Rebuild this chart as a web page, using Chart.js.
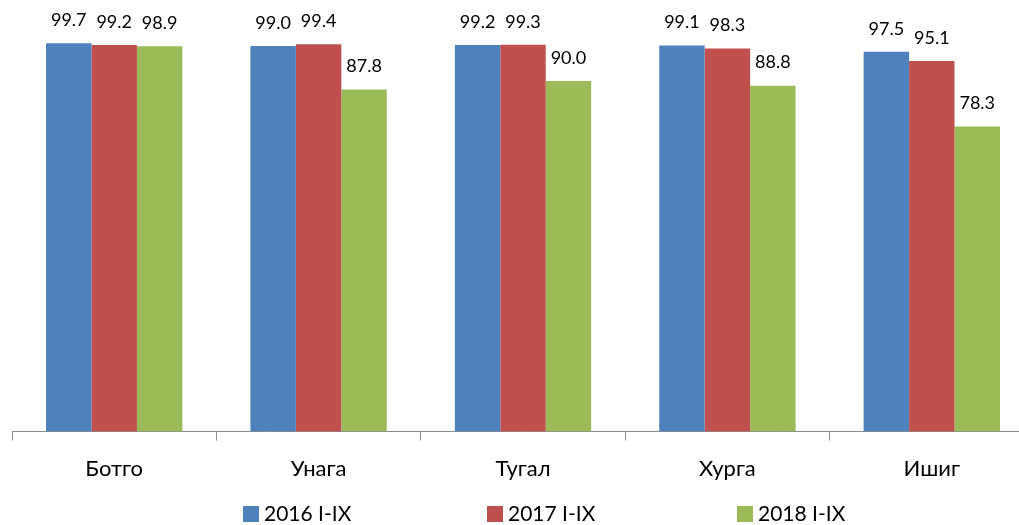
<!DOCTYPE html>
<html>
<head>
<meta charset="utf-8">
<script src="https://cdn.jsdelivr.net/npm/chart.js@4"></script>
<style>
  html, body { margin: 0; padding: 0; background: #fff; overflow: hidden; }
  #wrap { width: 1019px; height: 525px; overflow: hidden; }
</style>
</head>
<body>
<div id="wrap">
  <canvas id="chart" width="1036" height="525"></canvas>
</div>
<script>
const categories = ["Ботго", "Унага", "Тугал", "Хурга", "Ишиг"];
const seriesNames = ["2016 I-IX", "2017 I-IX", "2018 I-IX"];
const values2016 = [99.7, 99.0, 99.2, 99.1, 97.5];
const values2017 = [99.2, 99.4, 99.3, 98.3, 95.1];
const values2018 = [98.9, 87.8, 90.0, 88.8, 78.3];
const colors = ["#4F81BD", "#C0504D", "#9BBB59"];

const fontFamily = 'Lato, "Noto Sans", sans-serif';

// value labels above each bar
const valueLabels = {
  id: "valueLabels",
  afterDatasetsDraw(chart) {
    const ctx = chart.ctx;
    ctx.save();
    ctx.font = "18px " + fontFamily;
    ctx.fillStyle = "#000";
    ctx.textAlign = "center";
    ctx.textBaseline = "middle";
    chart.data.datasets.forEach((ds, i) => {
      chart.getDatasetMeta(i).data.forEach((bar, j) => {
        ctx.fillText(ds.data[j].toFixed(1), bar.x, bar.y - 23);
      });
    });
    ctx.restore();
  }
};

// legend spread out like the original
const wideLegend = {
  id: "wideLegend",
  afterDraw(chart) {
    const ctx = chart.ctx;
    const xs = [243, 487, 737];
    const y = 514;
    ctx.save();
    ctx.font = "21px " + fontFamily;
    ctx.textBaseline = "middle";
    ctx.textAlign = "left";
    chart.data.datasets.forEach((ds, i) => {
      ctx.fillStyle = ds.backgroundColor;
      ctx.fillRect(xs[i], y - 8, 16, 16);
      ctx.fillStyle = "#000";
      ctx.fillText(ds.label, xs[i] + 21, y);
    });
    ctx.restore();
  }
};

new Chart(document.getElementById("chart"), {
  type: "bar",
  data: {
    labels: categories,
    datasets: [
      { label: seriesNames[0], data: values2016, backgroundColor: colors[0] },
      { label: seriesNames[1], data: values2017, backgroundColor: colors[1] },
      { label: seriesNames[2], data: values2018, backgroundColor: colors[2] }
    ]
  },
  options: {
    responsive: false,
    animation: false,
    layout: { padding: { left: 12, right: 2, top: 42, bottom: 28 } },
    datasets: { bar: { categoryPercentage: 0.667, barPercentage: 1.0 } },
    plugins: {
      legend: { display: false },
      tooltip: { enabled: false }
    },
    scales: {
      x: {
        grid: {
          offset: true,
          drawOnChartArea: false,
          drawTicks: true,
          tickLength: 9,
          color: "#8c8c8c"
        },
        border: { display: true, color: "#8c8c8c" },
        ticks: {
          color: "#000",
          padding: 15,
          font: { family: fontFamily, size: 22 }
        }
      },
      y: {
        display: false,
        min: 0,
        max: 100
      }
    }
  },
  plugins: [valueLabels, wideLegend]
});
</script>
</body>
</html>
